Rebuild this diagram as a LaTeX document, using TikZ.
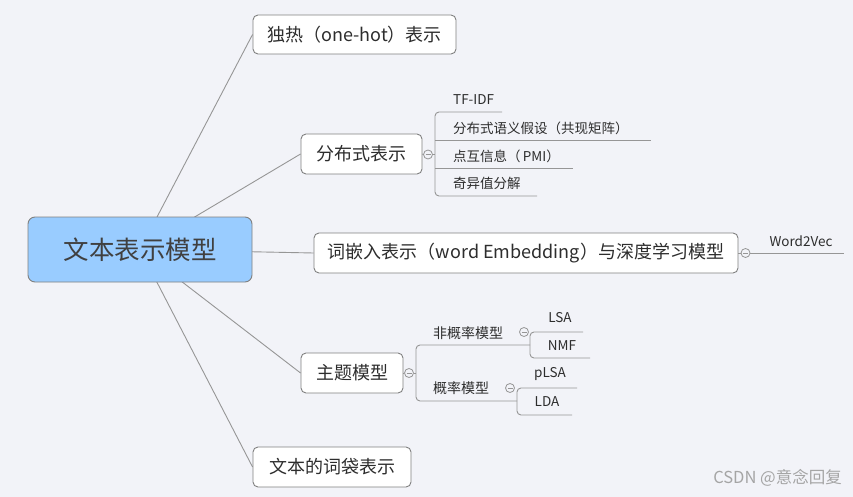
\documentclass[tikz,border=0pt]{standalone}
\usepackage{fontspec}
\newfontfamily\cjk{Noto Sans CJK SC}
\usetikzlibrary{backgrounds}
\definecolor{bgc}{RGB}{242,243,248}
\definecolor{rootfill}{RGB}{153,204,255}
\definecolor{edgec}{RGB}{128,128,128}
\definecolor{linec}{RGB}{150,150,150}
\definecolor{txt}{RGB}{45,45,45}
\definecolor{wm}{RGB}{165,165,165}
\tikzset{
  box/.style={draw=edgec, line width=0.9pt, rounded corners=5pt, fill=white, inner sep=0pt,
    font=\cjk\fontsize{18}{20}\selectfont, text=txt},
  rootbox/.style={box, fill=rootfill, rounded corners=7pt, font=\cjk\fontsize{25.5}{28}\selectfont, text={rgb,255:red,64;green,64;blue,64}},
  leaf/.style={inner sep=0pt, anchor=west, font=\cjk\fontsize{13.5}{15}\selectfont, text=txt},
  midleaf/.style={inner sep=0pt, font=\cjk\fontsize{13.5}{15}\selectfont, text=txt},
  grp/.style={inner sep=0pt, anchor=west, font=\cjk\fontsize{14}{16}\selectfont, text=txt},
  conn/.style={draw=linec, line width=0.9pt},
  br/.style={draw=linec, line width=0.9pt, rounded corners=4pt},
  tog/.style={circle, draw=linec, fill=bgc, line width=0.8pt, minimum size=9pt, inner sep=0pt,
    path picture={\draw[linec, line width=0.8pt]
      ([xshift=-2.5pt]path picture bounding box.center) -- ([xshift=2.5pt]path picture bounding box.center);}},
}
\begin{document}
\begin{tikzpicture}[x=1pt,y=-1pt]
\useasboundingbox (0,0) rectangle (853,497);

% main nodes
\node[rootbox, minimum width=224pt, minimum height=65pt] (root) at (140,249.5) {文本表示模型};
\node[box, minimum width=203pt, minimum height=39pt] (n1) at (354.5,34.5) {独热（one-hot）表示};
\node[box, minimum width=121pt, minimum height=40pt] (n2) at (361.5,154) {分布式表示};
\node[box, minimum width=424pt, minimum height=40pt] (n3) at (526,253) {词嵌入表示（word Embedding）与深度学习模型};
\node[box, minimum width=102pt, minimum height=40pt] (n4) at (352,373) {主题模型};
\node[box, minimum width=158pt, minimum height=40pt] (n5) at (332,467) {文本的词袋表示};

% toggles
\node[tog] (t2) at (428,154.5) {};
\node[tog] (t3) at (745.5,253) {};
\node[tog] (t4) at (409,373) {};
\node[tog] (t41) at (524,332) {};
\node[tog] (t42) at (510,388) {};

% children of n2
\node[leaf] (c21) at (453,100) {TF-IDF};
\node[leaf] (c22) at (453,128) {分布式语义假设（共现矩阵）};
\node[leaf] (c23) at (453,156) {点互信息（\,PMI）};
\node[leaf] (c24) at (453,183) {奇异值分解};
\coordinate (b2a) at (435,112);
\coordinate (b2d) at (435,196);
\coordinate (b2m) at (435,154.5);
\coordinate (e21) at (502,112);
\coordinate (s22) at (435,140);
\coordinate (e22) at (651,140);
\coordinate (s23) at (435,168);
\coordinate (e23) at (573,168);
\coordinate (e24) at (537,196);
\draw[br] (e21) -- (b2a) -- (b2d) -- (e24);
\draw[conn] (s22) -- (e22);
\draw[conn] (s23) -- (e23);
\draw[conn] (n2.east) -- (t2.west);
\draw[conn] (t2.east) -- (b2m);

% child of n3
\node[midleaf] (c31) at (801,241) {Word2Vec};
\coordinate (e31) at (844,253);
\draw[conn] (n3.east) -- (t3.west);
\draw[conn] (t3.east) -- (e31);

% children of n4
\node[grp] (g1) at (433,333) {非概率模型};
\node[grp] (g2) at (433,388) {概率模型};
\coordinate (b4a) at (416,345);
\coordinate (b4d) at (416,401);
\coordinate (b4m) at (416,373);
\coordinate (e4a) at (530,345);
\coordinate (e4d) at (517,401);
\draw[br] (e4a) -- (b4a) -- (b4d) -- (e4d);
\draw[conn] (n4.east) -- (t4.west);
\draw[conn] (t4.east) -- (b4m);

\node[midleaf] (l1) at (560,318) {LSA};
\node[midleaf] (l2) at (562,345.5) {NMF};
\coordinate (s1a) at (530,332);
\coordinate (s1d) at (530,358);
\coordinate (s1e1) at (583,332);
\coordinate (s1e2) at (590,358);
\draw[br] (s1e1) -- (s1a) -- (s1d) -- (s1e2);

\node[midleaf] (l3) at (550,374) {pLSA};
\node[midleaf] (l4) at (547,401.5) {LDA};
\coordinate (s2a) at (517,388);
\coordinate (s2d) at (517,415);
\coordinate (s2e1) at (577,388);
\coordinate (s2e2) at (572,415);
\draw[br] (s2e1) -- (s2a) -- (s2d) -- (s2e2);

% watermark
\node[anchor=east, inner sep=0pt, font=\cjk\fontsize{16.5}{18}\selectfont, text=wm] (wmk) at (842,478) {CSDN @意念回复};

\begin{scope}[on background layer]
  \fill[bgc] (0,0) rectangle (853,497);
  \draw[conn] (root.center) -- (n1.west);
  \draw[conn] (root.center) -- (n2.west);
  \draw[conn] (root.center) -- (n3.west);
  \draw[conn] (root.center) -- (n4.west);
  \draw[conn] (root.center) -- (n5.west);
\end{scope}
\end{tikzpicture}
\end{document}
